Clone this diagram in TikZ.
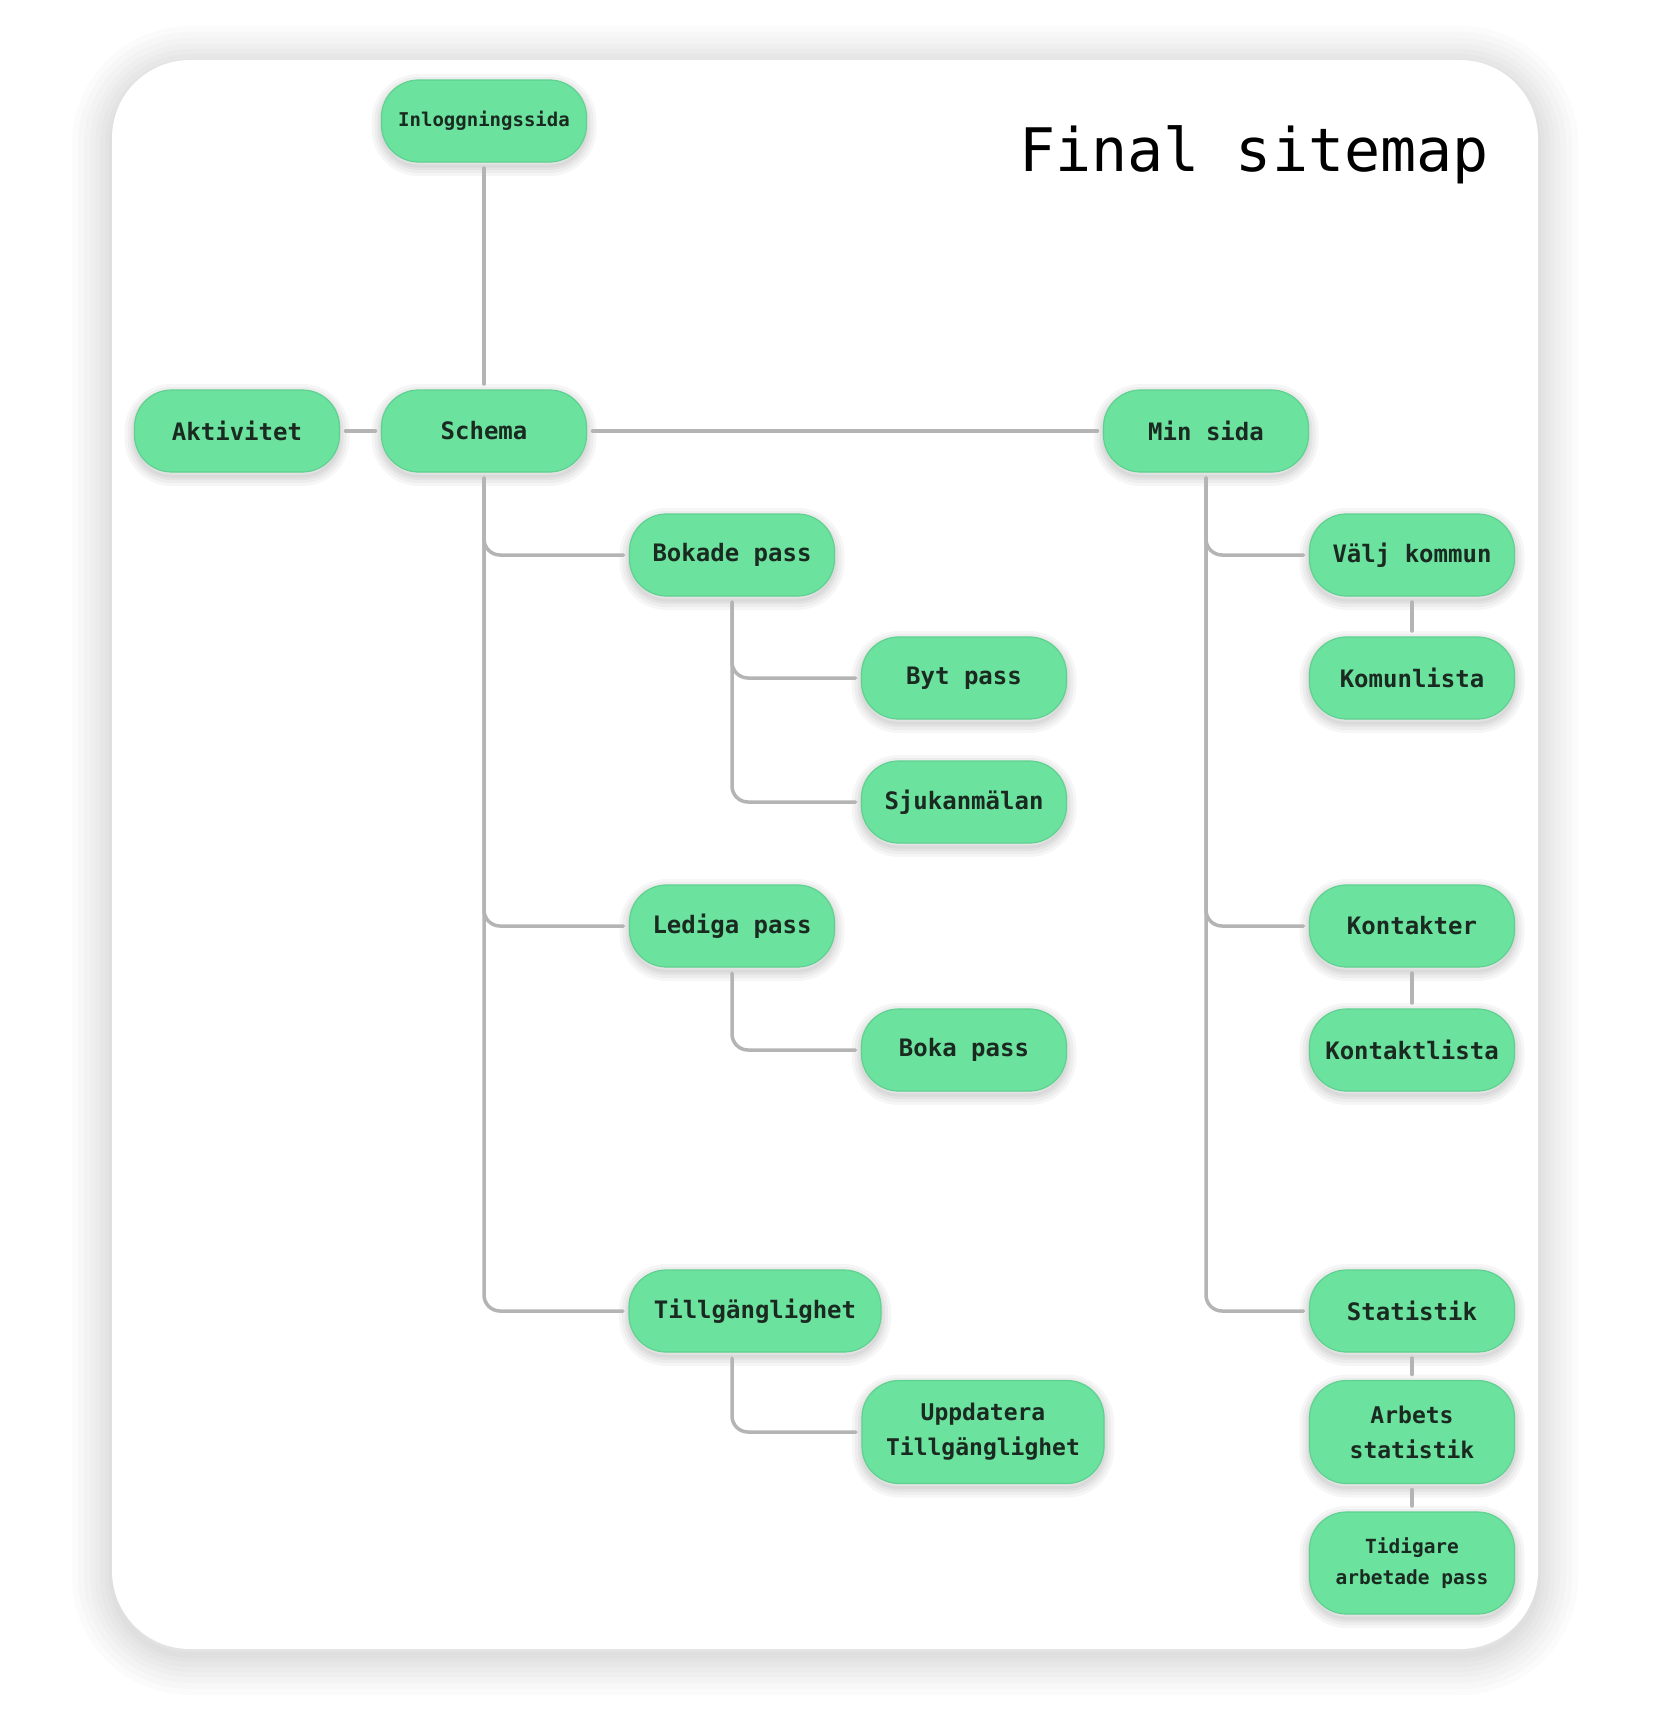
\documentclass[tikz,border=0pt]{standalone}
\usepackage{fontspec}
\newfontfamily\mono{DejaVu Sans Mono}
\definecolor{nodegreen}{HTML}{6BE29E}
\definecolor{nodeedge}{HTML}{5FD191}
\definecolor{txt}{HTML}{1B2A21}
\definecolor{conn}{HTML}{B4B4B4}
\begin{document}
\begin{tikzpicture}[x=1pt,y=-1pt,
  softshadow/.style={
    preaction={draw=black, draw opacity=0.035, line width=20pt, transform canvas={yshift=-4pt}},
    preaction={draw=black, draw opacity=0.035, line width=14pt, transform canvas={yshift=-4pt}},
    preaction={draw=black, draw opacity=0.04, line width=8pt, transform canvas={yshift=-4pt}},
    preaction={draw=black, draw opacity=0.04, line width=3pt, transform canvas={yshift=-4pt}}},
  box/.style={rounded corners=37pt, minimum width=205pt, minimum height=82pt,
    inner sep=0pt, outer sep=6pt, fill=nodegreen, draw=nodeedge, line width=1.2pt,
    text=txt, align=center, font=\mono\bfseries\fontsize{24}{35}\selectfont, softshadow},
  smalltext/.style={font=\mono\bfseries\fontsize{23}{35}\selectfont},
  link/.style={draw=conn, line width=3.5pt, rounded corners=16pt, line cap=round}]
\useasboundingbox (0,0) rectangle (1671,1710);
\fill[white] (0,0) rectangle (1671,1710);
\foreach \w in {80,68,56,44,34,24,14,6}
  \draw[black, draw opacity=0.015, line width=\w pt, rounded corners=78pt, transform canvas={yshift=-6pt}]
    (112,60) rectangle (1538,1649);
\path[fill=white, rounded corners=78pt] (112,60) rectangle (1538,1649);

\node[font=\mono\fontsize{60}{72}\selectfont, anchor=base, text=black] (title) at (1254,171) {Final sitemap};

\node[box, font=\mono\bfseries\fontsize{19}{24}\selectfont] (login) at (484,121) {Inloggningssida};
\node[box] (akt) at (237,431) {Aktivitet};
\node[box] (schema) at (484,431) {Schema};
\node[box] (min) at (1206,431) {Min sida};
\node[box] (bokade) at (732,555) {Bokade pass};
\node[box] (byt) at (964,678) {Byt pass};
\node[box] (sjuk) at (964,802) {Sjukanmälan};
\node[box] (lediga) at (732,926) {Lediga pass};
\node[box] (boka) at (964,1050) {Boka pass};
\node[box, minimum width=252pt] (tillg) at (755,1311) {Tillgänglighet};
\node[box, smalltext, minimum width=242pt, minimum height=103pt] (uppd) at (983,1432) {Uppdatera\\Tillgänglighet};
\node[box] (valj) at (1412,555) {Välj kommun};
\node[box] (komun) at (1412,678) {Komunlista};
\node[box] (kontakter) at (1412,926) {Kontakter};
\node[box] (kontaktl) at (1412,1050) {Kontaktlista};
\node[box] (stat) at (1412,1311) {Statistik};
\node[box, smalltext, minimum height=103pt] (arbets) at (1412,1432) {Arbets\\statistik};
\node[box, font=\mono\bfseries\fontsize{19.5}{30.5}\selectfont, minimum height=102pt] (tidig) at (1412,1563) {Tidigare\\arbetade pass};

\draw[link] (login) -- (schema);
\draw[link] (akt) -- (schema);
\draw[link] (schema) -- (min);
\draw[link] (schema.south) |- (bokade.west);
\draw[link] (schema.south) |- (lediga.west);
\draw[link] (schema.south) |- (tillg.west);
\draw[link] (bokade.south) |- (byt.west);
\draw[link] (bokade.south) |- (sjuk.west);
\draw[link] (lediga.south) |- (boka.west);
\draw[link] (tillg.south -| bokade.south) |- (uppd.west);
\draw[link] (min.south) |- (valj.west);
\draw[link] (min.south) |- (kontakter.west);
\draw[link] (min.south) |- (stat.west);
\draw[link] (valj) -- (komun);
\draw[link] (kontakter) -- (kontaktl);
\draw[link] (stat) -- (arbets);
\draw[link] (arbets) -- (tidig);
\end{tikzpicture}
\end{document}
